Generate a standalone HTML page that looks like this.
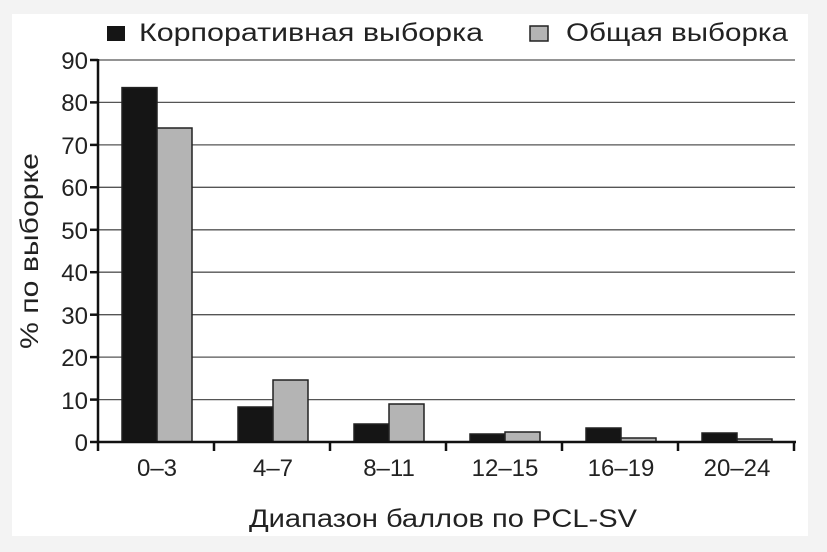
<!DOCTYPE html>
<html><head><meta charset="utf-8"><style>
html,body{margin:0;padding:0;background:#f3f3f3;}
svg{display:block;font-family:"Liberation Sans","DejaVu Sans",sans-serif;}
</style></head><body>
<svg width="827" height="552" viewBox="0 0 827 552" xmlns="http://www.w3.org/2000/svg">
<rect x="12" y="14" width="796" height="522" fill="#fff"/>
<g stroke="#555" stroke-width="1.3">
<line x1="98" x2="795" y1="60" y2="60"/>
<line x1="98" x2="795" y1="102.4" y2="102.4"/>
<line x1="98" x2="795" y1="144.9" y2="144.9"/>
<line x1="98" x2="795" y1="187.3" y2="187.3"/>
<line x1="98" x2="795" y1="229.8" y2="229.8"/>
<line x1="98" x2="795" y1="272.2" y2="272.2"/>
<line x1="98" x2="795" y1="314.7" y2="314.7"/>
<line x1="98" x2="795" y1="357.1" y2="357.1"/>
<line x1="98" x2="795" y1="399.6" y2="399.6"/>
</g>
<g stroke="#222" stroke-width="1.5">
<rect x="122" y="87.6" width="35" height="354.4" fill="#151515"/>
<rect x="157" y="128" width="35" height="314" fill="#b4b4b4"/>
<rect x="238" y="407" width="35" height="35" fill="#151515"/>
<rect x="273" y="380" width="35" height="62" fill="#b4b4b4"/>
<rect x="354" y="424" width="35" height="18" fill="#151515"/>
<rect x="389" y="404" width="35" height="38" fill="#b4b4b4"/>
<rect x="470" y="434" width="35" height="8" fill="#151515"/>
<rect x="505" y="432" width="35" height="10" fill="#b4b4b4"/>
<rect x="586" y="428" width="35" height="14" fill="#151515"/>
<rect x="621" y="438" width="35" height="4" fill="#b4b4b4"/>
<rect x="702" y="433" width="35" height="9" fill="#151515"/>
<rect x="737" y="439" width="35" height="3" fill="#b4b4b4"/>
</g>
<g stroke="#111" stroke-width="2.5">
<line x1="98" x2="98" y1="59" y2="443"/>
<line x1="97" x2="796" y1="442" y2="442"/>
<line x1="90" x2="98" y1="60" y2="60"/><line x1="90" x2="98" y1="102.4" y2="102.4"/>
<line x1="90" x2="98" y1="144.9" y2="144.9"/><line x1="90" x2="98" y1="187.3" y2="187.3"/>
<line x1="90" x2="98" y1="229.8" y2="229.8"/><line x1="90" x2="98" y1="272.2" y2="272.2"/>
<line x1="90" x2="98" y1="314.7" y2="314.7"/><line x1="90" x2="98" y1="357.1" y2="357.1"/>
<line x1="90" x2="98" y1="399.6" y2="399.6"/><line x1="90" x2="98" y1="442" y2="442"/>
<line x1="98" x2="98" y1="442" y2="451"/><line x1="214" x2="214" y1="442" y2="451"/>
<line x1="330" x2="330" y1="442" y2="451"/><line x1="446" x2="446" y1="442" y2="451"/>
<line x1="562" x2="562" y1="442" y2="451"/><line x1="678" x2="678" y1="442" y2="451"/>
<line x1="794" x2="794" y1="442" y2="451"/>
</g>
<g font-size="24" fill="#222" text-anchor="end">
<text x="88" y="69">90</text><text x="88" y="111">80</text><text x="88" y="154">70</text>
<text x="88" y="196">60</text><text x="88" y="239">50</text><text x="88" y="281">40</text>
<text x="88" y="324">30</text><text x="88" y="366">20</text><text x="88" y="409">10</text>
<text x="88" y="451">0</text>
</g>
<g font-size="24" fill="#222" text-anchor="middle">
<text x="157" y="476">0–3</text><text x="273" y="476">4–7</text><text x="389" y="476">8–11</text>
<text x="505" y="476">12–15</text><text x="621" y="476">16–19</text><text x="737" y="476">20–24</text>
</g>
<text x="249" y="527" font-size="25" fill="#222" textLength="388" lengthAdjust="spacingAndGlyphs">Диапазон баллов по PCL-SV</text>
<text transform="translate(38,349) rotate(-90)" font-size="25" fill="#222" textLength="196" lengthAdjust="spacingAndGlyphs">% по выборке</text>
<rect x="107" y="26" width="18" height="15" fill="#151515"/>
<text x="139" y="41" font-size="25" fill="#222" textLength="344" lengthAdjust="spacingAndGlyphs">Корпоративная выборка</text>
<rect x="530" y="26" width="18" height="15" fill="#b4b4b4" stroke="#222" stroke-width="1.5"/>
<text x="566" y="41" font-size="25" fill="#222" textLength="222" lengthAdjust="spacingAndGlyphs">Общая выборка</text>
</svg>
</body></html>
